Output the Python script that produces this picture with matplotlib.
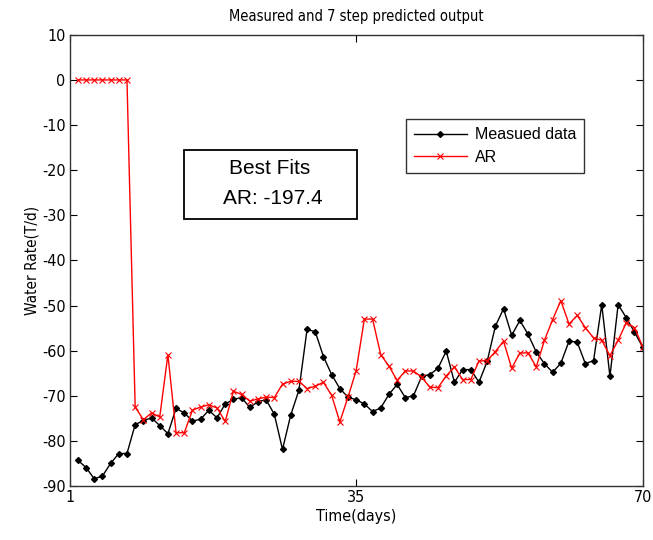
#!/usr/bin/env python3
import matplotlib
matplotlib.use("Agg")
import matplotlib.pyplot as plt
from matplotlib.patches import Rectangle
import numpy as np

days = np.arange(1, 71)

measured = [-84.3, -85.9, -88.4, -87.8, -85.0, -82.8, -82.8, -76.4, -75.5, -74.9,
            -76.6, -78.4, -72.8, -73.8, -75.6, -75.2, -73.2, -74.9, -71.8, -70.8,
            -70.4, -72.6, -71.3, -70.9, -74.1, -81.9, -74.3, -68.8, -55.3, -55.8,
            -61.3, -65.3, -68.4, -70.3, -70.9, -71.8, -73.5, -72.7, -69.7, -67.5,
            -70.4, -70.0, -65.7, -65.3, -63.9, -60.1, -67.0, -64.2, -64.2, -67.0,
            -62.4, -54.6, -50.7, -56.6, -53.3, -56.4, -60.3, -62.9, -64.8, -62.8,
            -57.9, -58.1, -62.9, -62.2, -49.8, -65.7, -49.8, -52.7, -55.9, -59.2]

ar = [0, 0, 0, 0, 0, 0, 0, -72.5, -75.3, -73.8,
      -74.7, -60.9, -78.2, -78.2, -73.2, -72.5, -72.0, -72.7, -75.7, -69.0,
      -69.7, -71.2, -70.7, -70.3, -70.4, -67.4, -66.8, -66.8, -68.4, -67.9,
      -67.0, -69.9, -75.8, -70.3, -64.4, -53.0, -53.0, -60.9, -63.4, -66.6,
      -64.5, -64.5, -65.9, -68.1, -68.2, -65.6, -63.6, -66.4, -66.4, -62.3,
      -62.2, -60.2, -57.9, -63.9, -60.5, -60.5, -63.6, -57.7, -53.1, -48.9,
      -54.1, -52.2, -54.9, -57.2, -57.7, -61.1, -57.7, -53.8, -54.9, -59.1]

plt.rcParams['font.family'] = ['DejaVu Sans']
plt.rcParams['font.stretch'] = 'condensed'
plt.rcParams['axes.unicode_minus'] = False

W, H = 653, 540
fig = plt.figure(figsize=(W / 100, H / 100), dpi=100)
ax = fig.add_axes([0.1067, 0.1, 0.8775, 0.8355])

ax.plot(days, measured, color='black', lw=1, marker='D', ms=3, label='Measued data')
ax.plot(days, ar, color='red', lw=1, marker='x', ms=5, mew=0.8, label='AR')

ax.set_xlim(0, 70)
ax.set_ylim(-90, 10)
ax.set_xticks([0, 35, 70])
ax.set_xticklabels(['1', '35', '70'])
ax.set_yticks(np.arange(-90, 11, 10))
ax.tick_params(direction='in', top=True, right=True, labelsize=11.5, length=5, pad=3)
for s in ax.spines.values():
    s.set_linewidth(1.0)
    s.set_color('#333333')

ax.set_title('Measured and 7 step predicted output', fontsize=10.5, pad=10)
ax.set_xlabel('Time(days)', fontsize=11.5, labelpad=3)
ax.set_ylabel('Water Rate(T/d)', fontsize=11, labelpad=2)

leg = ax.legend(loc='upper left', bbox_to_anchor=(0.587, 0.8125),
                frameon=True, fancybox=False, edgecolor='black',
                prop={'family': ['Liberation Sans'], 'stretch': 'normal', 'size': 11.5},
                handlelength=3.3, handletextpad=0.5, borderpad=0.5, labelspacing=0.45,
                borderaxespad=0)
leg.get_frame().set_linewidth(1.0)

# annotation box (pixel positions of the original)
fig.patches.append(Rectangle((184 / W, 1 - 219 / H), 173 / W, 69 / H,
                             transform=fig.transFigure, fc='white', ec='black', lw=1.3))
fig.text(270 / W, 1 - 168 / H, 'Best Fits', ha='center', va='center',
         fontsize=15, family='Liberation Sans', stretch='normal')
fig.text(273 / W, 1 - 199 / H, 'AR: -197.4', ha='center', va='center',
         fontsize=15, family='Liberation Sans', stretch='normal')

fig.savefig('out.png', dpi=100)
